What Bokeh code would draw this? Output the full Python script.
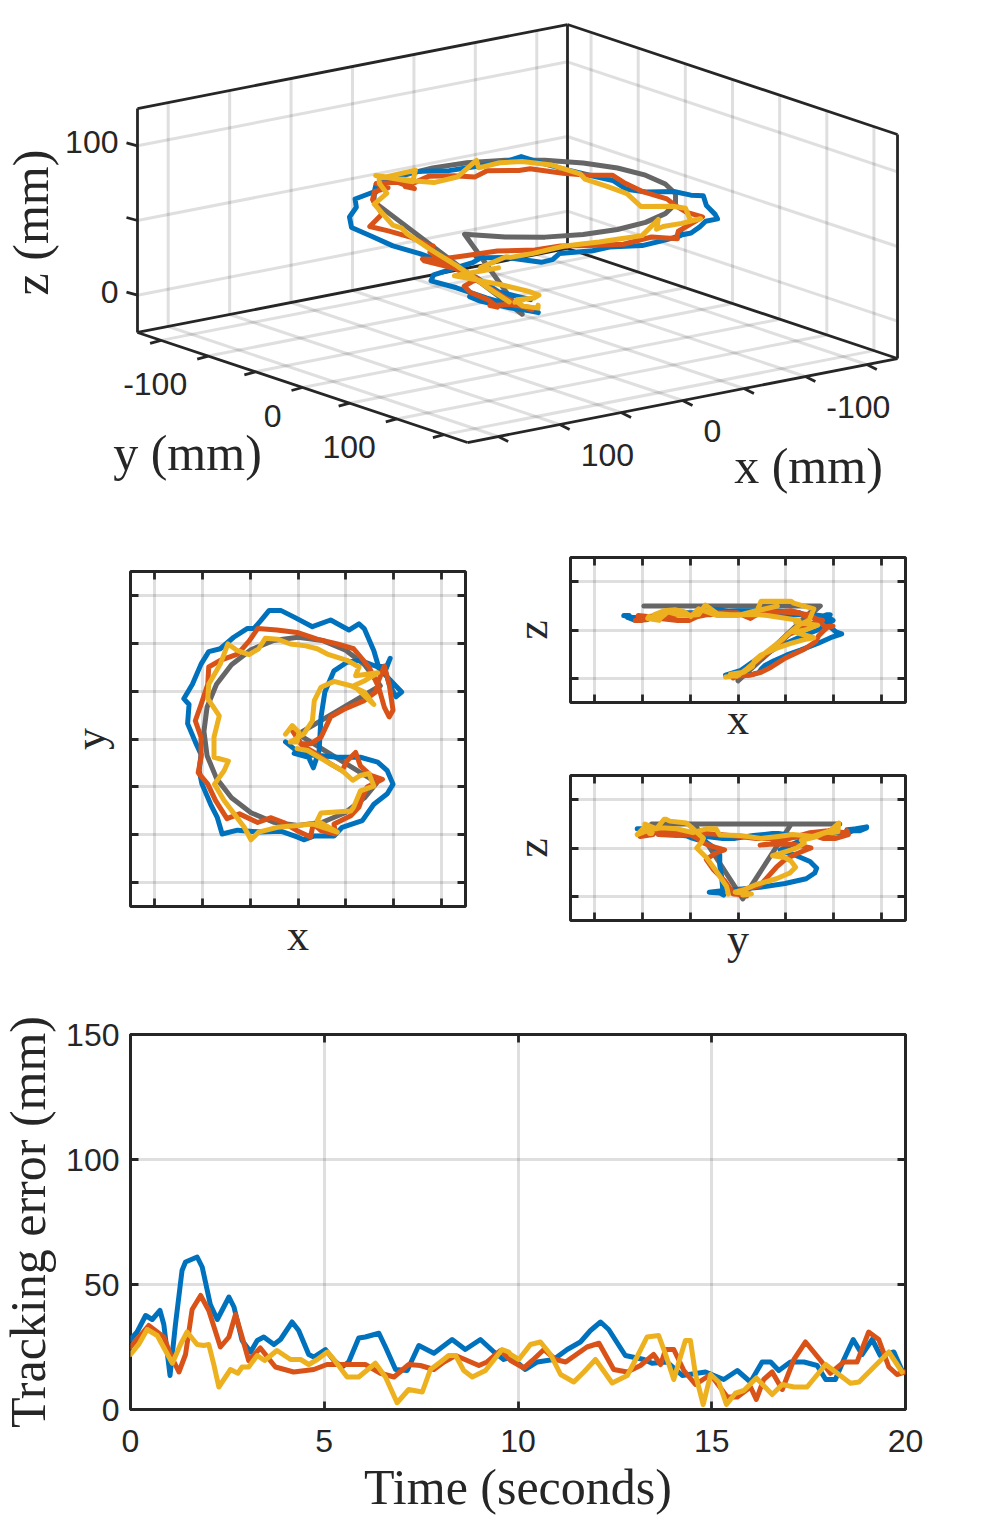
from math import pi

import numpy as np
from bokeh.core.properties import value
from bokeh.embed import file_html
from bokeh.layouts import column, row
from bokeh.models import FixedTicker, LinearAxis, Range1d
from bokeh.plotting import figure
from bokeh.resources import INLINE

# desired path, mm
ref_x = [0, 85.7, 69.3, 49, 25.4, 0, -25.4, -49, -69.3, -84.9, -94.7, -98, -94.7, -84.9, -69.3, -49, -25.4, 0, 25.4, 49, 69.3, 82.2, 0]
ref_y = [5, 55.5, 77.3, 92.9, 102.7, 106, 102.7, 92.9, 77.3, 57, 33.4, 8, -17.4, -41, -61.3, -76.9, -86.7, -90, -86.7, -76.9, -61.3, -45.4, 5]
ref_z = [-3, 75, 75, 75, 75, 75, 75, 75, 75, 75, 75, 75, 75, 75, 75, 75, 75, 75, 75, 75, 75, 75, -3]

# measured paths, mm
blue_x = [-4, 11, 16, 22, 24, 28, 37.5, 51, 65, 83, 96.5, 108, 102, 95, 91, 96, 93, 84, 79, 69, 63.5, 53, 34, 15, -4, -18, -30, -39, -46, -53, -67, -81, -93, -101, -110, -119, -113.5, -115, -107, -101, -103, -100, -91, -84, -79, -63, -39, -18, -1, 6, 17, 37.5, 46, 67, 79, 93, 99, 93, 83, 65, 41, 20, 3, -13]
blue_y = [-15, -19, -30, -12, 23, 49, 71, 80, 82, 75, 61, 49, 44, 57, 71, 84, 77, 75, 92, 115, 120, 113.5, 124, 117, 127, 134, 134, 123, 115, 115, 106, 94, 91, 78, 57, 42, 36, 16, -3, -16, -33, -47, -68, -82, -99, -95, -97, -96, -102, -105, -101, -101, -92, -85, -68, -57, -47, -33, -24, -19, -19, -17, -16, -3]
blue_z = [1, 3, 4, 6, 9, 13, 18, 24, 29, 36, 42, 46, 48, 54, 60, 66, 66, 63, 66, 66, 68, 69, 70, 68, 68, 71, 72, 70, 66, 66, 66, 65, 64, 63, 63, 65, 65, 63, 60, 60, 62, 62, 64, 66, 68, 68, 68, 69, 70, 70, 70, 68, 66, 66, 66, 64, 60, 56, 50, 43, 32, 20, 8, 3]

red_x = [-6, 3, 13, 24, 34, 48, 69, 81, 84, 90, 95, 99, 95, 90, 84, 74, 58, 41, 20, -1, -22, -42, -51, -63, -81, -93, -94, -101, -107, -101, -101, -104, -94, -86, -74, -61, -42, -28, -15, -1, 13, 16, 24, 39, 37.5, 55, 63.5, 67, 72, 88, 76, 65, 60, 51, 46, 34, 17, 4.5, -1, -5]
red_y = [9, -5, -5, 2, 23, 31, 40, 49, 61, 76, 57, 30, 23, 33, 54, 75, 94, 99, 104, 111, 113.5, 115, 102, 88.5, 82, 75, 57, 36, 19, 2, -19, -35, -47, -64, -83, -78, -87, -82, -87, -95.5, -102, -88.5, -95.5, -99, -88.5, -80, -71, -61, -50, -42, -38, -28, -14, -23, -33, -26, -14, -7, 2, 9]
red_z = [1, 2, 3, 6, 11, 20, 30, 38, 44, 50, 54, 54, 53, 54, 60, 66, 68, 69, 67, 66, 68, 64, 60, 60, 62, 62, 61, 60, 60, 62, 64, 65, 64, 63, 64, 66, 67, 66, 68, 68, 62, 64, 68, 69, 68, 70, 68, 66, 64, 60, 56, 52, 48, 45, 38, 28, 16, 6, 2, 0]

yellow_x = [-13, -6, 1, -1, -8, 6, 15, 17, 24, 37.5, 55, 69, 79, 65, 58, 70, 83, 60, 63.5, 51, 30.5, 20, 8, -8, -21.5, -34, -41, -51, -63, -73, -81, -93, -94, -82, -87.5, -87.5, -72.5, -77, -87, -77, -65, -56, -49, -41, -21.5, -1, 15, 41, 20, 24, 55, 58, 65, 79, 74, 65, 57, 46, 30.5, 10, -1]
yellow_y = [5, 14, 7, -3, -3, 5, 19, 40, 54, 60, 55.5, 49, 36, 49, 55.5, 61, 69, 66, 75, 82, 88.5, 94, 97, 99, 104, 105, 94, 88, 92, 99, 78, 57, 42, 24, 2, -19, -23, -33, -47, -64, -80, -92, -105, -97, -92, -90, -88.5, -97, -85, -77, -75, -71, -54, -49, -36, -38, -43, -33, -24, -12, -10]
yellow_z = [1, 2, 3, 4, 4, 6, 12, 18, 24, 30, 36, 40, 42, 46, 48, 50, 55, 58, 60, 62, 65, 66, 66, 66, 67, 76, 66, 65, 66, 69, 62, 64, 62, 60, 63, 63.5, 70, 70, 66, 70, 71, 69, 64, 72, 65, 65, 69, 75, 70, 80, 80, 78, 76, 72, 60, 56, 50, 40, 28, 10, 2]

# tracking error, mm
blue_t = [0, 0.17, 0.39, 0.56, 0.76, 0.86, 1.02, 1.16, 1.33, 1.42, 1.72, 1.85, 2.06, 2.24, 2.54, 2.67, 2.88, 3.1, 3.27, 3.44, 3.7, 3.87, 4.17, 4.34, 4.6, 4.73, 5.03, 5.25, 5.46, 5.63, 5.89, 6.06, 6.41, 6.58, 6.84, 7.14, 7.44, 7.83, 8.3, 8.64, 9.03, 9.38, 9.63, 9.81, 10.19, 10.5, 10.92, 11.27, 11.61, 11.87, 12.13, 12.34, 12.77, 13.25, 13.46, 13.85, 14.24, 14.84, 15.31, 15.66, 16, 16.3, 16.52, 16.73, 17.03, 17.38, 17.72, 17.94, 18.19, 18.41, 18.65, 18.88, 19.14, 19.35, 19.7, 19.91]
blue_err = [28, 31, 37.6, 36, 39.6, 34, 13.6, 34, 55.6, 59, 61, 57, 42, 36, 45, 41, 27.6, 23, 27.6, 29, 26, 28, 35, 31.6, 22, 21, 24, 19.6, 17, 19, 28.6, 29, 30.5, 25, 16, 15.6, 25.6, 22.5, 28, 24, 28, 23, 20, 21, 16, 19, 20, 24, 27, 31.6, 35, 32, 21.6, 20, 18.5, 19, 13.6, 15, 12, 15.6, 11, 19, 19, 15.6, 19, 19, 17.6, 12, 12, 20, 28, 22, 28, 21.6, 23, 15.6]
red_t = [0, 0.47, 0.86, 1.03, 1.25, 1.42, 1.59, 1.81, 2.02, 2.32, 2.54, 2.71, 2.88, 3.05, 3.35, 3.74, 4.21, 4.73, 5.07, 5.76, 6.06, 6.45, 6.8, 7.18, 7.48, 7.83, 8.09, 8.39, 8.99, 9.2, 9.55, 9.81, 10.15, 10.37, 10.67, 10.97, 11.23, 11.78, 12.09, 12.47, 12.82, 13.16, 13.5, 13.68, 13.81, 14.02, 14.28, 14.58, 14.97, 15.4, 15.66, 16, 16.15, 16.34, 16.56, 16.82, 17.12, 17.42, 17.81, 18.06, 18.41, 18.75, 19.05, 19.31, 19.57, 19.78, 19.98]
red_err = [25, 33.6, 29, 22, 15, 22, 40, 45.6, 39.6, 25, 29, 38, 29, 19.6, 24.6, 17, 15, 16, 18, 18, 18, 14.5, 13, 18, 17.6, 16, 19, 21.6, 17.6, 19, 23.6, 19.6, 16.6, 19.6, 24, 20, 19, 25, 26.5, 16, 15, 17.6, 22, 18, 24, 24, 15.6, 10, 14, 5, 5, 9, 4, 12, 15, 8, 20, 27, 19.6, 14.5, 19, 19, 31, 28, 17, 14, 15]
yellow_t = [0, 0.21, 0.43, 0.69, 1.08, 1.29, 1.46, 1.72, 1.89, 2.02, 2.15, 2.28, 2.58, 2.77, 2.88, 3.05, 3.27, 3.46, 3.78, 4.13, 4.39, 4.6, 4.82, 5.08, 5.25, 5.59, 5.89, 6.32, 6.58, 6.88, 7.18, 7.53, 7.74, 8, 8.21, 8.39, 8.6, 8.82, 9.16, 9.59, 9.76, 9.81, 10.02, 10.32, 10.58, 10.84, 11.1, 11.44, 11.7, 12, 12.43, 12.82, 13.07, 13.33, 13.63, 13.81, 14.02, 14.19, 14.32, 14.45, 14.58, 14.78, 14.97, 15.18, 15.38, 15.61, 15.83, 16.15, 16.56, 16.82, 17.12, 17.46, 17.94, 18.58, 18.8, 19.57, 19.91]
yellow_err = [22, 26, 32, 29.6, 18.5, 26, 31, 26, 25.6, 26, 18, 9, 16, 14.5, 17, 17, 21.6, 19.6, 23.6, 20, 20, 18, 20, 23, 20, 13, 13, 18.5, 13, 2.7, 8, 7, 16, 19, 21.6, 21.6, 15.6, 13, 15.6, 24, 23, 22, 20, 26, 27, 22, 14, 11, 15, 20, 10.6, 13.6, 21, 29, 29.6, 22, 12, 21, 27.6, 27.6, 14, 2, 14, 11, 2, 6.5, 7.6, 12.6, 6, 10, 9, 9, 18, 10.5, 11, 23, 15]

pos_ticks = [-150, -100, -50, 0, 50, 100, 150]
z_ticks = [0, 50, 100]
time_ticks = [0, 5, 10, 15, 20]
err_ticks = [0, 50, 100, 150]

INK = "#262626"
GRID_ALPHA = 0.15
SANS = "Liberation Sans"
SERIF = "Liberation Serif"
LW = 5
TRACES = [
    (ref_x, ref_y, ref_z, "#666666"),
    (blue_x, blue_y, blue_z, "#0072BD"),
    (red_x, red_y, red_z, "#D95319"),
    (yellow_x, yellow_y, yellow_z, "#EDB120"),
]


def project(x, y, z):
    # orthographic view of the box, result is in page pixels
    x, y, z = np.asarray(x, float), np.asarray(y, float), np.asarray(z, float)
    return 517 - 1.2286 * x + 0.9429 * y, 345 + 0.24 * x + 0.3143 * y - 1.4933 * (z + 25)


def edge(p, a, b, **kw):
    sx, sy = project(*zip(a, b))
    p.line(sx, sy, **kw)


def panel(w, h, left, right, top, bottom, xr, yr, **kw):
    p = figure(width=w, height=h, x_range=Range1d(*xr), y_range=Range1d(*yr),
               min_border_left=left, min_border_right=right, min_border_top=top, min_border_bottom=bottom,
               output_backend="svg", toolbar_location=None, **kw)
    p.outline_line_color = INK
    p.outline_line_width = 3
    return p


def style_axis(ax, ticks, show=True):
    ax.ticker = FixedTicker(ticks=ticks)
    ax.axis_line_color = None
    ax.major_tick_in = 8
    ax.major_tick_out = 0
    ax.major_tick_line_color = INK
    ax.major_tick_line_width = 2.8
    ax.minor_tick_line_color = None
    ax.major_label_text_font = SANS
    ax.major_label_text_font_size = "32px"
    ax.major_label_text_color = INK
    if not show:
        ax.major_label_overrides = {t: "" for t in ticks}


def frame_axes(p, xt, yt, show=False):
    style_axis(p.below[0], xt, show)
    style_axis(p.left[0], yt, show)
    p.xgrid.ticker = FixedTicker(ticks=xt)
    p.ygrid.ticker = FixedTicker(ticks=yt)
    for g in (p.xgrid, p.ygrid):
        g.grid_line_color = INK
        g.grid_line_alpha = GRID_ALPHA
        g.grid_line_width = 3
    top = LinearAxis()
    style_axis(top, xt, False)
    p.add_layout(top, "above")
    side = LinearAxis()
    style_axis(side, yt, False)
    p.add_layout(side, "right")


def axis_title(ax, text, size, standoff):
    ax.axis_label = text
    ax.axis_label_text_font = SERIF
    ax.axis_label_text_font_style = "normal"
    ax.axis_label_text_font_size = size
    ax.axis_label_text_color = INK
    ax.axis_label_standoff = standoff


# 3D view ------------------------------------------------------------------
L = 175
Z0, Z1 = -25, 125
p3 = figure(width=1000, height=500, x_range=Range1d(0, 1000), y_range=Range1d(500, 0),
            x_axis_type=None, y_axis_type=None, min_border=0,
            output_backend="svg", toolbar_location=None)
p3.outline_line_color = None
p3.xgrid.visible = False
p3.ygrid.visible = False

grid_kw = dict(line_color=INK, line_alpha=GRID_ALPHA, line_width=3)
for t in pos_ticks:
    edge(p3, (t, -L, Z0), (t, L, Z0), **grid_kw)
    edge(p3, (-L, t, Z0), (L, t, Z0), **grid_kw)
    edge(p3, (t, -L, Z0), (t, -L, Z1), **grid_kw)
    edge(p3, (-L, t, Z0), (-L, t, Z1), **grid_kw)
for t in z_ticks:
    edge(p3, (L, -L, t), (-L, -L, t), **grid_kw)
    edge(p3, (-L, -L, t), (-L, L, t), **grid_kw)

box_kw = dict(line_color=INK, line_width=2.8)
for a, b in [((L, -L, Z0), (L, L, Z0)), ((L, L, Z0), (-L, L, Z0)),
             ((L, -L, Z0), (-L, -L, Z0)), ((-L, -L, Z0), (-L, L, Z0)),
             ((L, -L, Z1), (-L, -L, Z1)), ((-L, -L, Z1), (-L, L, Z1)),
             ((L, -L, Z0), (L, -L, Z1)), ((-L, L, Z0), (-L, L, Z1)),
             ((-L, -L, Z0), (-L, -L, Z1))]:
    edge(p3, a, b, **box_kw)

for t in pos_ticks:
    sx, sy = project(L, t, Z0)
    p3.line([sx, sx - 11], [sy, sy + 3], **box_kw)
    sx, sy = project(t, L, Z0)
    p3.line([sx, sx + 10], [sy, sy + 5], **box_kw)
for t in z_ticks:
    sx, sy = project(L, -L, t)
    p3.line([sx, sx - 11], [sy, sy - 3], **box_kw)

for tx, ty, tz, col in TRACES:
    sx, sy = project(tx, ty, tz)
    p3.line(sx, sy, line_color=col, line_width=LW, line_join="round", line_cap="round")

tick_kw = dict(text_font=value(SANS), text_font_size="32px", text_color=INK, text_baseline="middle")
labels = [-100, 0, 100]
sx, sy = project([L] * 3, labels, [Z0] * 3)
p3.text(sx - 21, sy + 28, text=[str(t) for t in labels], text_align="right", **tick_kw)
sx, sy = project(labels, [L] * 3, [Z0] * 3)
p3.text(sx + 21, sy + 30, text=[str(t) for t in labels], text_align="left", **tick_kw)
sx, sy = project([L, L], [-L, -L], [0, 100])
p3.text(sx - 19, sy - 3.5, text=["0", "100"], text_align="right", **tick_kw)

title_kw = dict(text_font=value(SERIF), text_font_size="50px", text_color=INK, text_baseline="middle", text_align="center")
p3.text([187], [452], text=["y (mm)"], **title_kw)
p3.text([808], [465], text=["x (mm)"], **title_kw)
p3.text([30], [222], text=["z (mm)"], angle=pi / 2, **title_kw)

# projections --------------------------------------------------------------
POS = (-174.5, 174.5)
ZR = (-25.5, 125.5)

xy = panel(504, 475, 130, 39, 71, 69, POS, POS)
frame_axes(xy, pos_ticks, pos_ticks)
axis_title(xy.below[0], "x", "44px", 4)
axis_title(xy.left[0], "y", "44px", 16)

xz = panel(496, 262, 66, 95, 57, 60, POS, ZR)
frame_axes(xz, pos_ticks, z_ticks)
axis_title(xz.below[0], "x", "44px", -8)
axis_title(xz.left[0], "z", "44px", 14)

yz = panel(496, 213, 66, 95, 13, 55, POS, ZR)
frame_axes(yz, pos_ticks, z_ticks)
axis_title(yz.below[0], "y", "44px", -6)
axis_title(yz.left[0], "z", "44px", 14)

for tx, ty, tz, col in TRACES:
    kw = dict(line_color=col, line_width=LW, line_join="round", line_cap="round")
    xy.line(tx, ty, **kw)
    xz.line(tx, tz, **kw)
    yz.line(ty, tz, **kw)

# tracking error -----------------------------------------------------------
err = panel(1008, 553, 138, 87, 59, 119, (0, 20), (0, 150), margin=(0, 0, 0, -8))
frame_axes(err, time_ticks, err_ticks, show=True)
err.below[0].major_label_standoff = 20
err.left[0].major_label_standoff = 11
axis_title(err.below[0], "Time (seconds)", "50px", 4)
axis_title(err.left[0], "Tracking error (mm)", "50px", 7)
for t, e, col in [(blue_t, blue_err, "#0072BD"), (red_t, red_err, "#D95319"), (yellow_t, yellow_err, "#EDB120")]:
    err.line(t, e, line_color=col, line_width=LW, line_join="round", line_cap="round")

page = column(row(p3), row(xy, column(xz, yz, spacing=0), spacing=0), row(err), spacing=0)
open("out.html", "w").write(file_html(page, INLINE))
